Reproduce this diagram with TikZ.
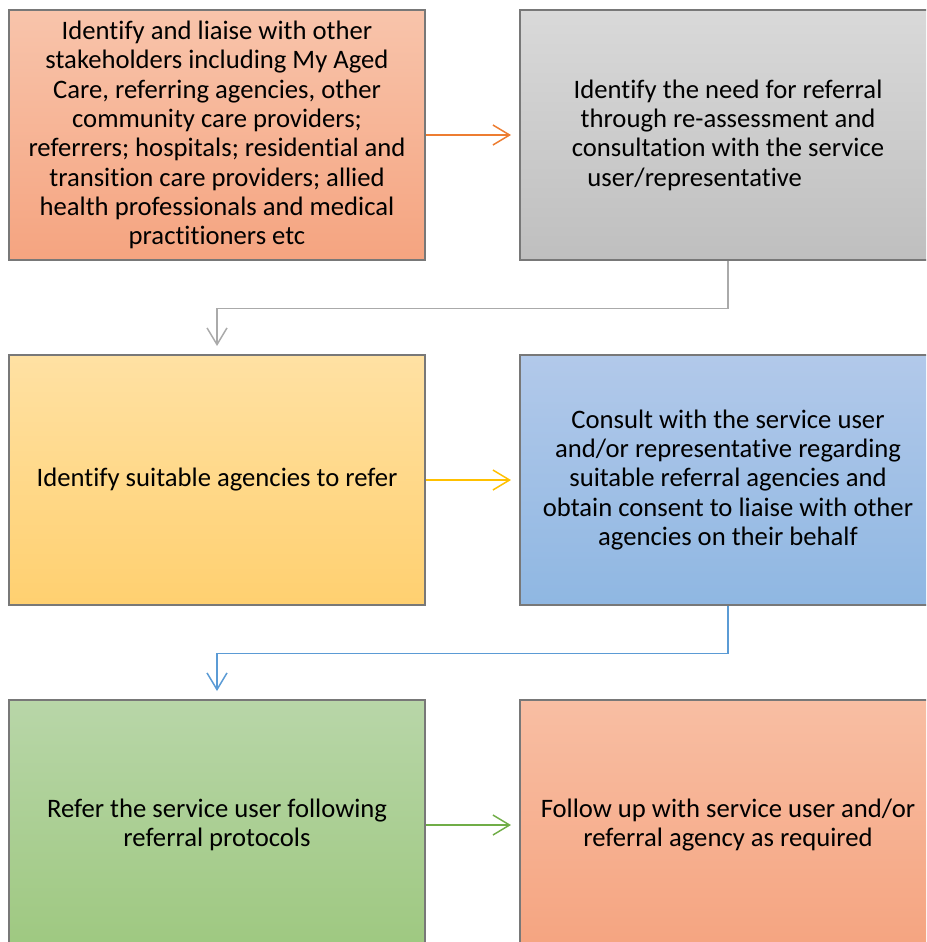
\documentclass[tikz,border=0pt]{standalone}
\usepackage{fontspec}
\setmainfont{Carlito}[Ligatures=NoCommon]
\usetikzlibrary{arrows.meta}

\tikzset{every picture/.style={line width=0.75pt}}
\tikzset{
  stepbox/.style={draw={rgb, 255:red, 120; green, 120; blue, 120}, line width=1.5pt,
    minimum width=312pt, minimum height=187.5pt, inner sep=0pt, align=center,
    font=\fontsize{20}{22}\selectfont},
  link/.style={line width=1.1pt, -{Straight Barb[length=12.5pt,width=15pt,line width=1.1pt]}, shorten >=6pt}
}

\begin{document}
\begin{tikzpicture}[x=0.75pt,y=0.75pt,yscale=-1,xscale=1]
		\useasboundingbox (0,0) rectangle (926,942);
		\clip (0,0) rectangle (926,942);

		% Boxes
		\node [stepbox, top color={rgb, 255:red, 248; green, 196; blue, 171}, bottom color={rgb, 255:red, 245; green, 164; blue, 128}] (liaise) at (217,135)
		{Identify and liaise with other\\stakeholders including My Aged\\Care, referring agencies, other\\community care providers;\\referrers; hospitals; residential and\\transition care providers; allied\\health professionals and medical\\practitioners etc};
		\node [stepbox, top color={rgb, 255:red, 217; green, 217; blue, 217}, bottom color={rgb, 255:red, 191; green, 191; blue, 191}] (need) at (728,135)
		{Identify the need for referral\\through re-assessment and\\consultation with the service\\user/representative\hspace*{50pt}};
		\node [stepbox, top color={rgb, 255:red, 255; green, 225; blue, 163}, bottom color={rgb, 255:red, 255; green, 208; blue, 112}] (agencies) at (217,480)
		{Identify suitable agencies to refer};
		\node [stepbox, top color={rgb, 255:red, 178; green, 201; blue, 234}, bottom color={rgb, 255:red, 143; green, 183; blue, 226}] (consult) at (728,480)
		{Consult with the service user\\and/or representative regarding\\suitable referral agencies and\\obtain consent to liaise with other\\agencies on their behalf};
		\node [stepbox, top color={rgb, 255:red, 184; green, 214; blue, 168}, bottom color={rgb, 255:red, 158; green, 200; blue, 128}] (refer) at (217,825)
		{Refer the service user following\\referral protocols};
		\node [stepbox, top color={rgb, 255:red, 248; green, 190; blue, 163}, bottom color={rgb, 255:red, 245; green, 164; blue, 128}] (follow) at (728,825)
		{Follow up with service user and/or\\referral agency as required};

		% Connectors
		\draw [link, color={rgb, 255:red, 237; green, 125; blue, 49}] (liaise.east) -- (need.west);
		\draw [link, color={rgb, 255:red, 170; green, 170; blue, 170}] (need.south) -- ++(0,47.5) -| (agencies.north);
		\draw [link, color={rgb, 255:red, 255; green, 192; blue, 0}] (agencies.east) -- (consult.west);
		\draw [link, color={rgb, 255:red, 91; green, 155; blue, 213}] (consult.south) -- ++(0,47.5) -| (refer.north);
		\draw [link, color={rgb, 255:red, 112; green, 173; blue, 71}] (refer.east) -- (follow.west);

	\end{tikzpicture}
\end{document}
